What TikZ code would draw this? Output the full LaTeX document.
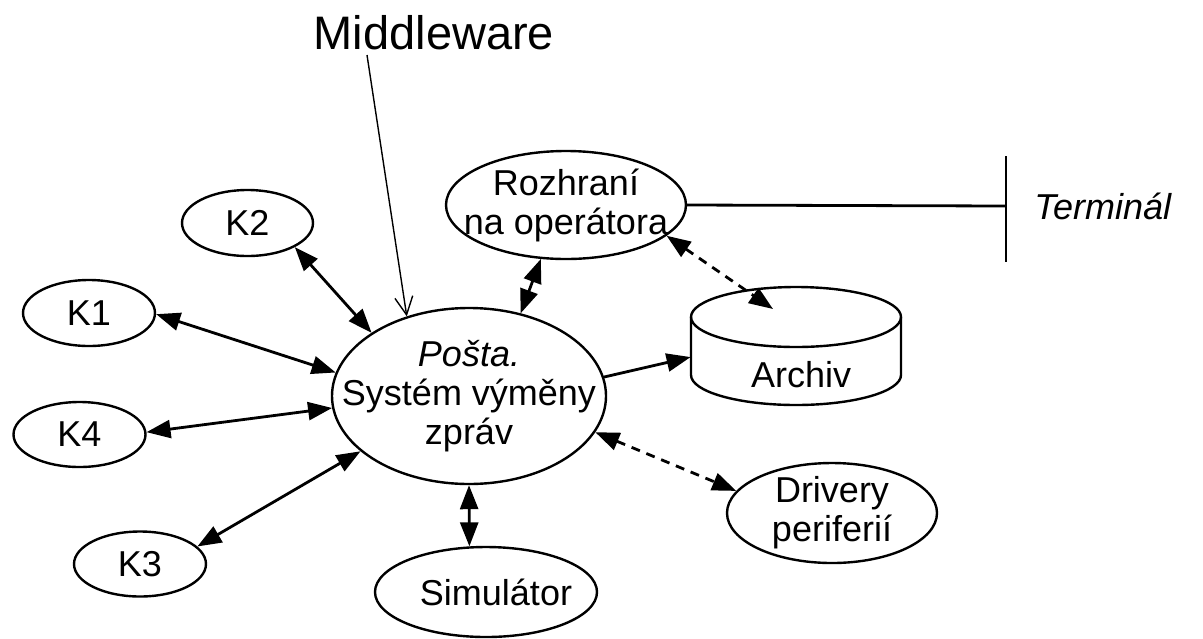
\documentclass[tikz,border=0pt]{standalone}
\usepackage{fontspec}
\setmainfont{Liberation Sans}
\usetikzlibrary{shapes.geometric,arrows.meta}
\tikzset{
  txt/.style={font=\fontsize{18}{19.5}\selectfont, align=center, inner sep=0pt},
  ell/.style={ellipse, draw, line width=1.2pt, inner sep=0pt},
  both/.style={line width=1.4pt, {Triangle[length=12pt,width=9pt]}-{Triangle[length=12pt,width=9pt]}},
  one/.style={line width=1.4pt, -{Triangle[length=12pt,width=9pt]}},
  dboth/.style={both, dash pattern=on 4.5pt off 3.5pt},
  thinarrow/.style={line width=0.7pt, -{Straight Barb[length=9pt,width=9pt]}}
}
\begin{document}
\begin{tikzpicture}[x=0.5pt,y=-0.5pt]
\useasboundingbox (0,0) rectangle (1203,638);
% nodes
\node[ell, minimum width=137pt, minimum height=88pt, label={[txt]center:{\textit{Pošta.}\\Systém výměny\\zpráv}}] (main) at (469,396) {};
\node[ell, minimum width=65.5pt, minimum height=33pt, label={[txt]center:K2}] (k2) at (247.5,223) {};
\node[ell, minimum width=66pt, minimum height=33pt, label={[txt]center:K1}] (k1) at (89,313) {};
\node[ell, minimum width=66pt, minimum height=32.5pt, label={[txt]center:K4}] (k4) at (79.5,434.5) {};
\node[ell, minimum width=66pt, minimum height=32.5pt, label={[txt]center:K3}] (k3) at (140,564) {};
\node[ell, minimum width=120pt, minimum height=54pt, label={[txt]center:{Rozhraní\\na operátora}}] (roz) at (566,205) {};
\node[ell, minimum width=111pt, minimum height=45pt, label={[txt, xshift=5pt]center:Simulátor}] (sim) at (486,592) {};
\node[ell, minimum width=105pt, minimum height=50pt, label={[txt]center:{Drivery\\periferií}}] (drv) at (832,513) {};
% Archiv cylinder
\node[rectangle, inner sep=0pt, minimum width=105pt, minimum height=29pt] (archiv) at (796,346) {};
\draw[line width=1.2pt] (796,317) ellipse [x radius=105, y radius=30];
\draw[line width=1.2pt] (691,317) -- (691,375) arc[start angle=180, end angle=360, x radius=105, y radius=-30] -- (901,317);
\node[txt] (archivtxt) at (801,375) {Archiv};
\coordinate (archin) at (773,309);
% Terminal
\coordinate (tbar) at (1006,206);
\coordinate (tbartop) at (1006,156);
\coordinate (tbarbot) at (1006,262);
\draw[line width=1.4pt] (roz.east) -- (tbar);
\draw[line width=1.4pt] (tbartop) -- (tbarbot);
\node[txt, anchor=west] (term) at (1034,206) {\textit{Terminál}};
% Middleware
\node[inner sep=0pt, font=\fontsize{23.5}{25}\selectfont] (mw) at (434,33) {Middleware};
\coordinate (mwfoot) at (367,55);
\draw[thinarrow] (mwfoot) -- (main.128);
% connectors
\draw[both] (k2.333) -- (main.147.6);
\draw[both] (k1.-1.7) -- (main.170.6);
\draw[both] (k4.2) -- (main.185.7);
\draw[both] (k3.17) -- (main.207.4);
\draw[both] (main.270) -- (sim.110);
\draw[both] (main.58.7) -- (roz.245.5);
\draw[one] (main.8.7) -- (archiv.186.5);
\draw[dboth] (roz.343.7) -- (archin);
\draw[dboth] (main.344) -- (drv.167.2);
\end{tikzpicture}
\end{document}
